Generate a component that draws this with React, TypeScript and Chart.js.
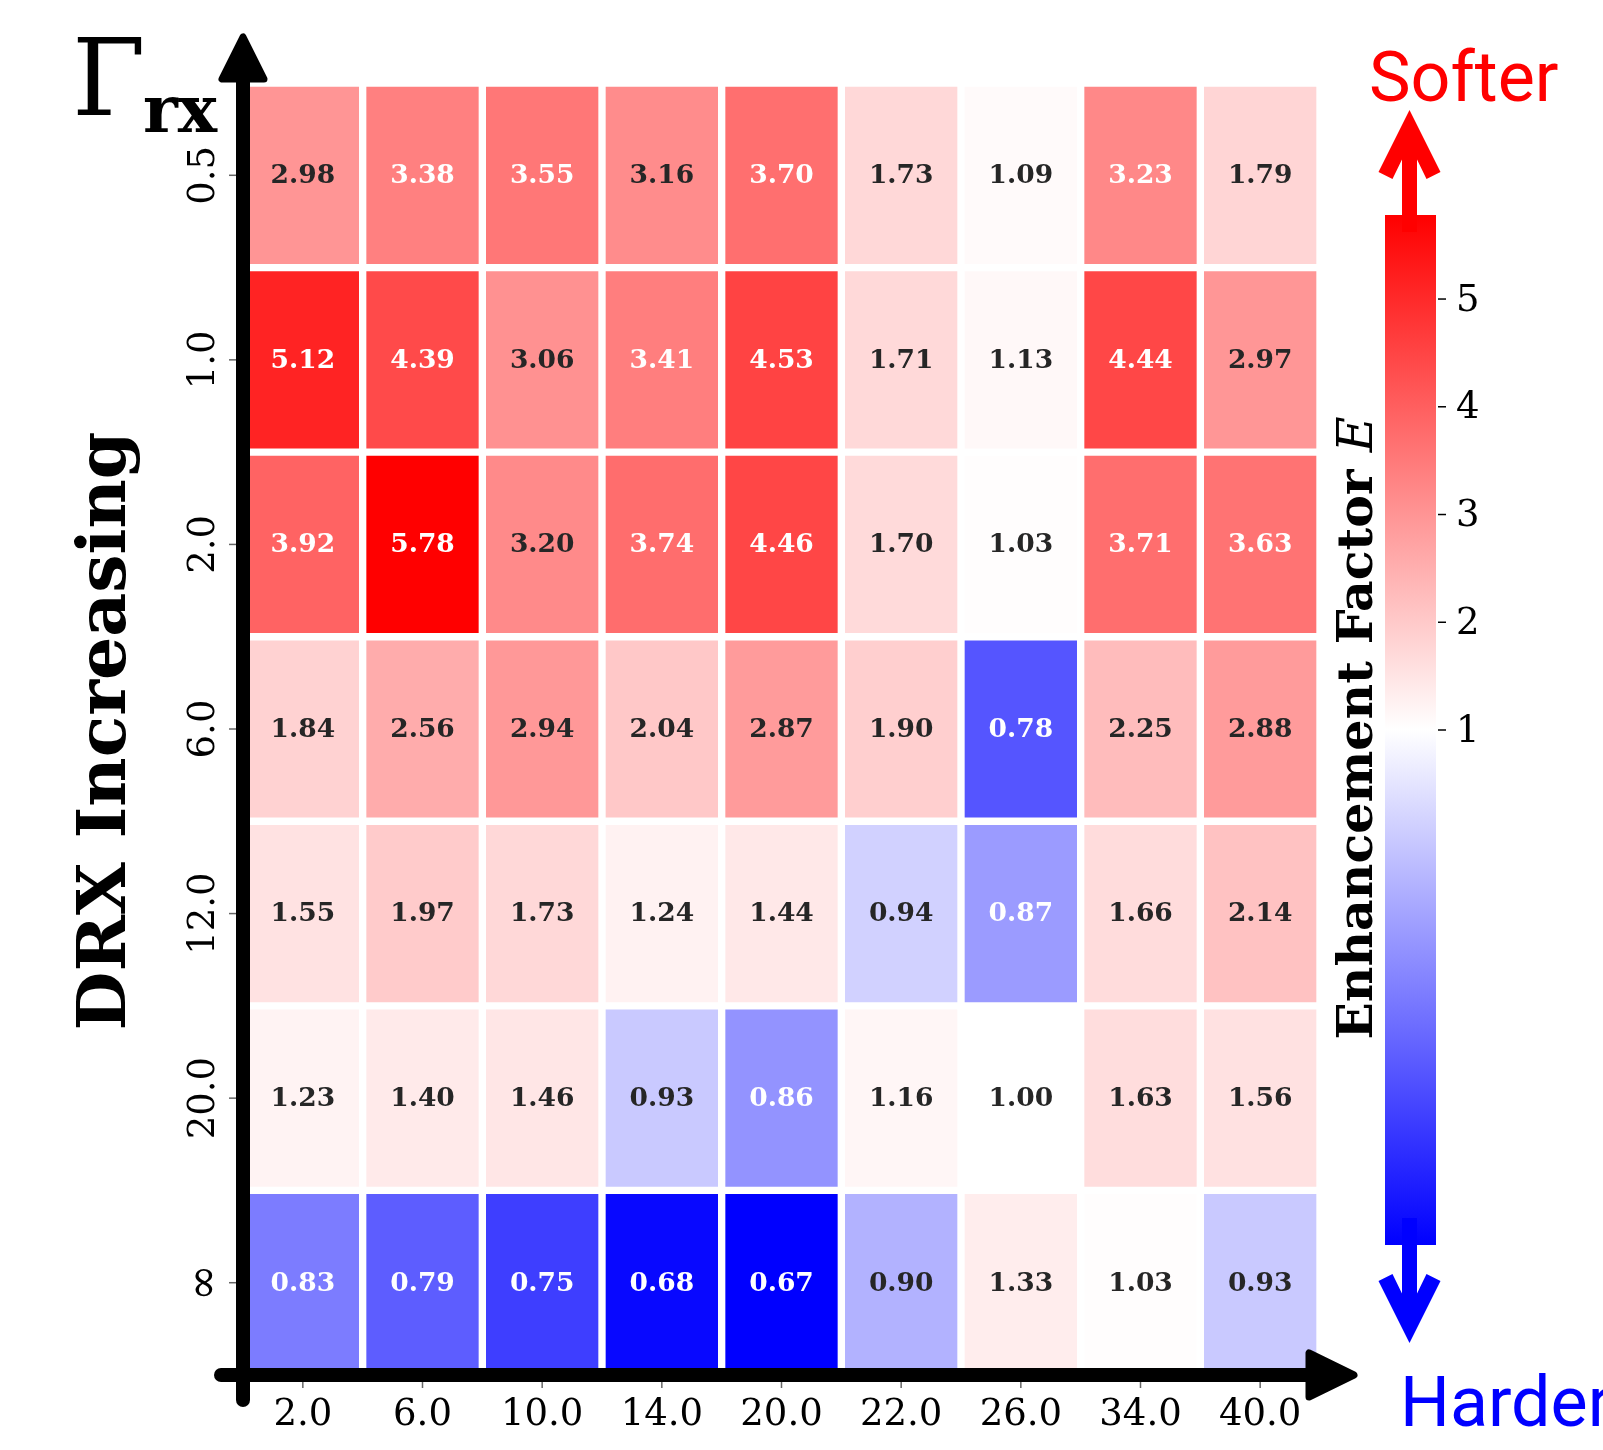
import React, { useEffect, useRef } from "react";
import { Chart, registerables } from "chart.js";

Chart.register(...registerables);

// ---------- data ----------
const xLabels = ["2.0", "6.0", "10.0", "14.0", "20.0", "22.0", "26.0", "34.0", "40.0"];
const yLabels = ["0.5", "1.0", "2.0", "6.0", "12.0", "20.0", "\u221E"];

const gamma05 = [2.98, 3.38, 3.55, 3.16, 3.7, 1.73, 1.09, 3.23, 1.79];
const gamma10 = [5.12, 4.39, 3.06, 3.41, 4.53, 1.71, 1.13, 4.44, 2.97];
const gamma20 = [3.92, 5.78, 3.2, 3.74, 4.46, 1.7, 1.03, 3.71, 3.63];
const gamma60 = [1.84, 2.56, 2.94, 2.04, 2.87, 1.9, 0.78, 2.25, 2.88];
const gamma120 = [1.55, 1.97, 1.73, 1.24, 1.44, 0.94, 0.87, 1.66, 2.14];
const gamma200 = [1.23, 1.4, 1.46, 0.93, 0.86, 1.16, 1.0, 1.63, 1.56];
const gammaInf = [0.83, 0.79, 0.75, 0.68, 0.67, 0.9, 1.33, 1.03, 0.93];

const rows = [gamma05, gamma10, gamma20, gamma60, gamma120, gamma200, gammaInf];
const colorbarTicks = [1, 2, 3, 4, 5];
const vCenter = 1;

// ---------- colour mapping (bwr with two-slope norm) ----------
const allVals = rows.flat();
const vMin = Math.min(...allVals);
const vMax = Math.max(...allVals);

function norm(v: number): number {
  if (v <= vCenter) return 0.5 * (v - vMin) / (vCenter - vMin);
  return 0.5 + 0.5 * (v - vCenter) / (vMax - vCenter);
}
function bwr(t: number): [number, number, number] {
  t = Math.max(0, Math.min(1, t));
  if (t < 0.5) {
    const s = t / 0.5;
    return [s, s, 1];
  }
  const s = (1 - t) / 0.5;
  return [1, s, s];
}
function rgbStr(c: [number, number, number]): string {
  return `rgb(${Math.round(c[0] * 255)},${Math.round(c[1] * 255)},${Math.round(c[2] * 255)})`;
}
function cellColor(v: number): string {
  return rgbStr(bwr(norm(v)));
}
function textColor(v: number): string {
  const c = bwr(norm(v)).map((x) => (x <= 0.03928 ? x / 12.92 : Math.pow((x + 0.055) / 1.055, 2.4)));
  const lum = 0.2126 * c[0] + 0.7152 * c[1] + 0.0722 * c[2];
  return lum > 0.408 ? "#262626" : "#ffffff";
}

// ---------- geometry of decorations ----------
const CB = { left: 1385, right: 1436, top: 215, bottom: 1245 };

function cbPixel(v: number): number {
  const t = norm(v);
  return CB.bottom - t * (CB.bottom - CB.top);
}

const overlayPlugin = {
  id: "overlay",
  beforeDraw(chart: any) {
    const ctx = chart.ctx;
    ctx.save();
    ctx.fillStyle = "#ffffff";
    ctx.fillRect(0, 0, chart.width, chart.height);
    ctx.restore();
  },
  afterDatasetsDraw(chart: any) {
    const ctx: CanvasRenderingContext2D = chart.ctx;
    const xs = chart.scales.x;
    const ys = chart.scales.y;

    // cell annotations
    ctx.save();
    ctx.font = "bold 26.5px 'DejaVu Serif'";
    ctx.textAlign = "center";
    ctx.textBaseline = "middle";
    rows.forEach((vals, r) => {
      vals.forEach((v, c) => {
        ctx.fillStyle = textColor(v);
        ctx.fillText(v.toFixed(2), xs.getPixelForValue(c), ys.getPixelForValue(r + 0.5) + 1);
      });
    });
    ctx.restore();

    // small tick marks
    ctx.save();
    ctx.strokeStyle = "#666";
    ctx.lineWidth = 1.5;
    yLabels.forEach((_, r) => {
      const y = ys.getPixelForValue(r + 0.5);
      ctx.beginPath();
      ctx.moveTo(229, y);
      ctx.lineTo(236, y);
      ctx.stroke();
    });
    xLabels.forEach((_, c) => {
      const x = xs.getPixelForValue(c);
      ctx.beginPath();
      ctx.moveTo(x, 1382);
      ctx.lineTo(x, 1388);
      ctx.stroke();
    });
    ctx.restore();

    // y tick labels (rotated)
    ctx.save();
    ctx.fillStyle = "#000";
    ctx.textAlign = "center";
    ctx.textBaseline = "middle";
    yLabels.forEach((lab, r) => {
      const y = ys.getPixelForValue(r + 0.5);
      const isInf = lab === "\u221E";
      ctx.font = isInf ? "44px 'DejaVu Serif'" : "37px 'DejaVu Serif'";
      ctx.save();
      ctx.translate(isInf ? 206 : 204, y);
      ctx.rotate(-Math.PI / 2);
      ctx.fillText(lab, 0, 0);
      ctx.restore();
    });
    ctx.restore();

    // axes arrows
    ctx.save();
    ctx.fillStyle = "#000";
    ctx.strokeStyle = "#000";
    ctx.lineCap = "round";
    ctx.lineJoin = "round";
    ctx.lineWidth = 14;
    ctx.beginPath();
    ctx.moveTo(243, 1400);
    ctx.lineTo(243, 80);
    ctx.stroke();
    ctx.beginPath();
    ctx.moveTo(221, 1375);
    ctx.lineTo(1315, 1375);
    ctx.stroke();
    ctx.lineWidth = 7;
    ctx.beginPath();
    ctx.moveTo(243, 37);
    ctx.lineTo(222, 79);
    ctx.lineTo(264, 79);
    ctx.closePath();
    ctx.fill();
    ctx.stroke();
    ctx.beginPath();
    ctx.moveTo(1354, 1375);
    ctx.lineTo(1309, 1353);
    ctx.lineTo(1309, 1397);
    ctx.closePath();
    ctx.fill();
    ctx.stroke();
    ctx.restore();

    // colorbar
    ctx.save();
    const grad = ctx.createLinearGradient(0, CB.top, 0, CB.bottom);
    grad.addColorStop(0, rgbStr(bwr(1)));
    grad.addColorStop(0.5, rgbStr(bwr(0.5)));
    grad.addColorStop(1, rgbStr(bwr(0)));
    ctx.fillStyle = grad;
    ctx.fillRect(CB.left, CB.top, CB.right - CB.left, CB.bottom - CB.top);
    ctx.strokeStyle = "#000";
    ctx.lineWidth = 1.5;
    ctx.fillStyle = "#000";
    ctx.font = "37px 'DejaVu Serif'";
    ctx.textAlign = "left";
    ctx.textBaseline = "middle";
    colorbarTicks.forEach((t) => {
      const y = cbPixel(t);
      ctx.beginPath();
      ctx.moveTo(CB.right + 2, y);
      ctx.lineTo(CB.right + 10, y);
      ctx.stroke();
      ctx.fillText(String(t), CB.right + 20, y + 2);
    });
    ctx.restore();

    // colorbar label
    ctx.save();
    ctx.fillStyle = "#000";
    ctx.translate(1372, 728);
    ctx.rotate(-Math.PI / 2);
    ctx.textBaseline = "alphabetic";
    ctx.textAlign = "left";
    const partA = "Enhancement Factor ";
    const partB = "E";
    const fA = "bold 49px 'DejaVu Serif'";
    const fB = "italic 49px 'DejaVu Serif'";
    ctx.font = fA;
    const wA = ctx.measureText(partA).width;
    ctx.font = fB;
    const wB = ctx.measureText(partB).width;
    const start = -(wA + wB) / 2;
    ctx.font = fA;
    ctx.fillText(partA, start, 0);
    ctx.font = fB;
    ctx.fillText(partB, start + wA, 0);
    ctx.restore();

    // y axis title
    ctx.save();
    ctx.fillStyle = "#000";
    ctx.translate(125, 731);
    ctx.rotate(-Math.PI / 2);
    ctx.font = "bold 68px 'DejaVu Serif'";
    ctx.textAlign = "center";
    ctx.textBaseline = "alphabetic";
    ctx.fillText("DRX Increasing", 0, 0);
    ctx.restore();

    // Gamma_rx
    ctx.save();
    ctx.fillStyle = "#000";
    ctx.textAlign = "left";
    ctx.textBaseline = "alphabetic";
    ctx.font = "106px 'DejaVu Serif'";
    ctx.fillText("\u0393", 72, 115);
    ctx.font = "bold 66px 'DejaVu Serif'";
    ctx.fillText("rx", 143, 132);
    ctx.restore();

    // Softer / Harder arrows
    const drawArrow = (color: string, up: boolean) => {
      const cx = 1409.5;
      const tip = up ? 110 : 1343;
      const d = up ? 1 : -1;
      ctx.save();
      ctx.fillStyle = color;
      ctx.beginPath();
      ctx.moveTo(cx, tip);
      ctx.lineTo(cx + 31, tip + d * 62);
      ctx.lineTo(cx + 17, tip + d * 69);
      ctx.lineTo(cx, tip + d * 34);
      ctx.lineTo(cx - 17, tip + d * 69);
      ctx.lineTo(cx - 31, tip + d * 62);
      ctx.closePath();
      ctx.fill();
      if (up) ctx.fillRect(cx - 7.5, tip + 30, 15, 232 - (tip + 30));
      else ctx.fillRect(cx - 7.5, 1218, 15, tip - 30 - 1218);
      ctx.restore();
    };
    drawArrow("#ff0000", true);
    drawArrow("#0000ff", false);

    ctx.save();
    ctx.textAlign = "left";
    ctx.textBaseline = "alphabetic";
    ctx.font = "70px Roboto";
    ctx.fillStyle = "#ff0000";
    ctx.fillText("Softer", 1369, 101);
    ctx.fillStyle = "#0000ff";
    ctx.fillText("Harder", 1400, 1426);
    ctx.restore();
  },
};

export default function App() {
  const ref = useRef<HTMLCanvasElement>(null);
  useEffect(() => {
    document.body.style.margin = "0";
    const canvas = ref.current;
    if (!canvas) return;
    const chart = new Chart(canvas, {
      type: "bar",
      data: {
        labels: xLabels,
        datasets: rows.map((vals, r) => ({
          label: yLabels[r],
          data: vals.map(() => [r, r + 1]) as any,
          backgroundColor: vals.map((v) => cellColor(v)),
          borderColor: "#ffffff",
          borderWidth: 4,
          borderSkipped: false,
          grouped: false,
          categoryPercentage: 1,
          barPercentage: 1,
        })),
      },
      options: {
        responsive: false,
        maintainAspectRatio: false,
        devicePixelRatio: 1,
        animation: false,
        events: [],
        layout: { padding: { left: 0, top: 83, right: 283, bottom: 0 } },
        plugins: { legend: { display: false }, tooltip: { enabled: false } },
        scales: {
          x: {
            type: "category",
            offset: true,
            grid: { display: false, drawTicks: false },
            border: { display: false },
            ticks: {
              color: "#000",
              font: { family: "'DejaVu Serif'", size: 37 },
              padding: 18,
              maxRotation: 0,
              minRotation: 0,
              autoSkip: false,
            },
            afterFit: (s: any) => {
              s.height = 75;
            },
          },
          y: {
            type: "linear",
            min: 0,
            max: yLabels.length,
            reverse: true,
            grid: { display: false, drawTicks: false },
            border: { display: false },
            ticks: { display: false },
            afterFit: (s: any) => {
              s.width = 243;
            },
          },
        },
      },
      plugins: [overlayPlugin],
    });
    return () => chart.destroy();
  }, []);
  return (
    <div style={{ position: "absolute", left: 0, top: 0, width: 1603, height: 1450, background: "#fff" }}>
      <canvas ref={ref} width={1603} height={1450} style={{ display: "block", width: 1603, height: 1450 }} />
    </div>
  );
}
